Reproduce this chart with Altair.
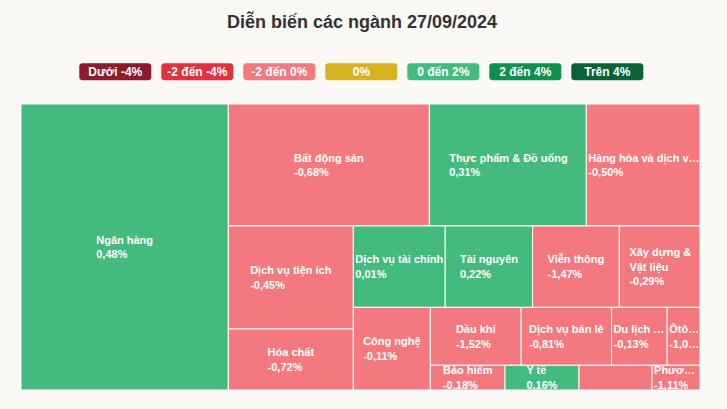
import math
import unicodedata
import altair as alt
import pandas as pd

TITLE = "Diễn biến các ngành 27/09/2024"

sectors = [
    "Ngân hàng", "Bất động sản", "Thực phẩm & Đồ uống", "Hàng hóa và dịch vụ công nghiệp",
    "Dịch vụ tiện ích", "Hóa chất", "Dịch vụ tài chính", "Tài nguyên", "Viễn thông",
    "Xây dựng & Vật liệu", "Công nghệ", "Dầu khí", "Dịch vụ bán lẻ", "Du lịch và giải trí",
    "Ôtô và phụ tùng", "Bảo hiểm", "Y tế", "Hàng cá nhân & Gia dụng", "Phương tiện truyền thông",
]
weights = [30.53, 12.63, 9.86, 7.14, 6.63, 3.93, 3.85, 3.66, 3.63, 3.38,
           3.28, 2.71, 2.70, 1.66, 0.98, 0.95, 0.94, 0.93, 0.61]
changes = [0.48, -0.68, 0.31, -0.50, -0.45, -0.72, 0.01, 0.22, -1.47, -0.29,
           -0.11, -1.52, -0.81, -0.13, -1.04, -0.18, 0.16, -0.35, -1.11]
hidden_labels = ["Hàng cá nhân & Gia dụng"]

legend_labels = ["Dưới -4%", "-2 đến -4%", "-2 đến 0%", "0%", "0 đến 2%", "2 đến 4%", "Trên 4%"]
legend_colors = ["#8c1c2b", "#e3303f", "#f4797e", "#d7b220", "#43bb7f", "#0e914e", "#0a6334"]

W, H = 679, 286  # treemap plot area (px)
NAN = float("nan")


def jdiv(a, b):
    if math.isnan(a) or math.isnan(b):
        return NAN
    if b == 0:
        return NAN if a == 0 else math.copysign(math.inf, a)
    return a / b


def ratio(a, b):
    r1, r2 = jdiv(a, b), jdiv(b, a)
    if math.isnan(r1) or math.isnan(r2):
        return NAN
    return max(r1, r2)


class Group:
    def __init__(self, h, w, d):
        self.height, self.width, self.direction = h, w, d
        self.total = 0.0
        self.nW = self.lW = self.nH = self.lH = 0.0
        self.elArr = []
        self.lpTotal = 0.0
        self.nR = self.lR = 0.0

    def add(self, el):
        self.lpTotal = self.elArr[-1] if self.elArr else NAN
        self.total += el
        if self.direction == 0:
            self.lW = self.nW
            lH = jdiv(self.lpTotal, self.lW)
            self.lR = ratio(self.lW, lH)
            self.nW = self.total / self.height
            nH = jdiv(self.lpTotal, self.nW)
            self.nR = ratio(self.nW, nH)
        else:
            self.lH = self.nH
            lW = jdiv(self.lpTotal, self.lH)
            self.lR = ratio(lW, self.lH)
            self.nH = self.total / self.width
            nW = jdiv(self.lpTotal, self.nH)
            self.nR = ratio(nW, self.nH)
        self.elArr.append(el)

    def reset(self):
        self.nW = self.lW = 0.0
        self.elArr = []
        self.total = 0.0


def squarified(vals, w, h):
    tot = sum(vals)
    vals = [v * w * h / tot for v in vals]
    g = Group(h, w, 0)
    plot = {"x": 0.0, "y": 0.0}
    out = []

    def calc(last):
        gW, gH = (g.nW, g.nH) if last else (g.lW, g.lH)
        keep = None if last else g.elArr[-1]
        end = len(g.elArr) - 1
        for i, p in enumerate(g.elArr):
            if last or i < end:
                if g.direction == 0:
                    pw, ph = gW, p / gW
                else:
                    ph, pw = gH, p / gH
                out.append((plot["x"], plot["y"], pw, ph))
                if g.direction == 0:
                    plot["y"] += ph
                else:
                    plot["x"] += pw
        g.reset()
        if g.direction == 0:
            g.width -= gW
        else:
            g.height -= gH
        plot["y"] = h - g.height
        plot["x"] = w - g.width
        g.direction = 1 - g.direction
        if not last:
            g.add(keep)

    n = len(vals)
    for i, v in enumerate(vals):
        g.add(v)
        if g.nR > g.lR:
            calc(False)
        if i == n - 1:
            calc(True)
    return out


# Arial/Liberation Sans Bold advance widths (per 1000 em)
CW = {" ": 278, "%": 889, "&": 722, ",": 278, "-": 333, ".": 278, "/": 278, "…": 1000,
      "đ": 611, "Đ": 722}
CW.update({d: 556 for d in "0123456789"})
CW.update(dict(zip("ABCDEFGHIJKLMNOPQRSTUVWXYZ",
                   [722, 722, 722, 722, 667, 611, 778, 722, 278, 556, 722, 611, 833, 722, 778,
                    667, 778, 722, 667, 611, 722, 667, 944, 667, 667, 611])))
CW.update(dict(zip("abcdefghijklmnopqrstuvwxyz",
                   [556, 611, 556, 611, 556, 333, 611, 611, 278, 278, 556, 278, 889, 611, 611,
                    611, 611, 389, 556, 333, 611, 556, 778, 556, 556, 500])))


def text_w(s, fs):
    tot = 0
    for ch in s:
        c = ch if ch in CW else unicodedata.normalize("NFD", ch)[0]
        tot += CW.get(c, 600)
    return tot * fs / 1000.0


def fmt(v):
    return f"{v:.2f}".replace(".", ",") + "%"


def bin_of(v):
    if v < -4:
        return legend_labels[0]
    if v < -2:
        return legend_labels[1]
    if v < 0:
        return legend_labels[2]
    if v == 0:
        return legend_labels[3]
    if v <= 2:
        return legend_labels[4]
    if v <= 4:
        return legend_labels[5]
    return legend_labels[6]


FS = 11
LH = 14.5
rows = []
for name, wt, ch, (x, y, w, h) in zip(sectors, weights, changes, squarified(weights, W, H)):
    lim = w - 2
    nm = name
    if text_w(nm, FS) > lim and "& " in nm:
        nm = nm.replace("& ", "&\n", 1)
    lines = nm.split("\n") + [fmt(ch)]
    tw = max(text_w(l, FS) for l in lines)
    lx = x + 2 if tw > lim else x + w / 2 - tw / 2
    ly = y + h / 2 - (len(lines) - 1) * LH / 2 + 1
    rows.append(dict(sector=name, change=ch, bin=bin_of(ch), x0=x, x1=x + w, y0=y, y1=y + h,
                     lx=lx, ly=ly, lim=lim, label="\n".join(lines),
                     show=name not in hidden_labels))
df = pd.DataFrame(rows)

xs = alt.Scale(domain=[0, W], nice=False, zero=False)
ys = alt.Scale(domain=[0, H], nice=False, zero=False, reverse=True)
color = alt.Color("bin:N", scale=alt.Scale(domain=legend_labels, range=legend_colors), legend=None)

rects = alt.Chart(df).mark_rect(stroke="white", strokeWidth=1).encode(
    x=alt.X("x0:Q", scale=xs, axis=None),
    x2="x1:Q",
    y=alt.Y("y0:Q", scale=ys, axis=None),
    y2="y1:Q",
    color=color,
    tooltip=["sector:N", "change:Q"],
)

labels = alt.Chart(df).transform_filter("datum.show").mark_text(
    align="left", baseline="middle", font="Liberation Sans", fontSize=FS, fontWeight="bold",
    color="white", lineBreak="\n", lineHeight=LH, limit=alt.ExprRef("datum.lim"), clip=True,
).encode(
    x=alt.X("lx:Q", scale=xs, axis=None),
    y=alt.Y("ly:Q", scale=ys, axis=None),
    text="label:N",
)

leg_df = pd.DataFrame({
    "bin": legend_labels,
    "bx": [58.3 + 82 * i for i in range(len(legend_labels))],
})
leg_df["bx2"] = leg_df["bx"] + 72
leg_df["tx"] = leg_df["bx"] + 36

leg_rects = alt.Chart(leg_df).mark_rect(cornerRadius=3).encode(
    x=alt.X("bx:Q", scale=None, axis=None),
    x2="bx2:Q",
    y=alt.value(-40.7),
    y2=alt.value(-23.7),
    color=color,
)
leg_text = alt.Chart(leg_df).mark_text(
    align="center", baseline="middle", font="Liberation Sans", fontSize=12,
    fontWeight="bold", color="white",
).encode(
    x=alt.X("tx:Q", scale=None, axis=None),
    y=alt.value(-31.8),
    text="bin:N",
)

title = alt.Chart(pd.DataFrame({"t": [TITLE]})).mark_text(
    align="center", baseline="alphabetic", font="Liberation Sans", fontSize=18,
    fontWeight="bold", color="#333333",
).encode(x=alt.value(341), y=alt.value(-76), text="t:N")

chart = alt.layer(rects, labels, leg_rects, leg_text, title).resolve_scale(
    x="independent", y="independent"
).properties(
    width=W, height=H,
    padding={"left": 21, "top": 104, "right": 27, "bottom": 19},
    autosize=alt.AutoSizeParams(type="none"),
    background="#fbf9f6",
).configure_view(stroke=None)

chart.save("out.html", embed_options={"renderer": "svg", "actions": False})
